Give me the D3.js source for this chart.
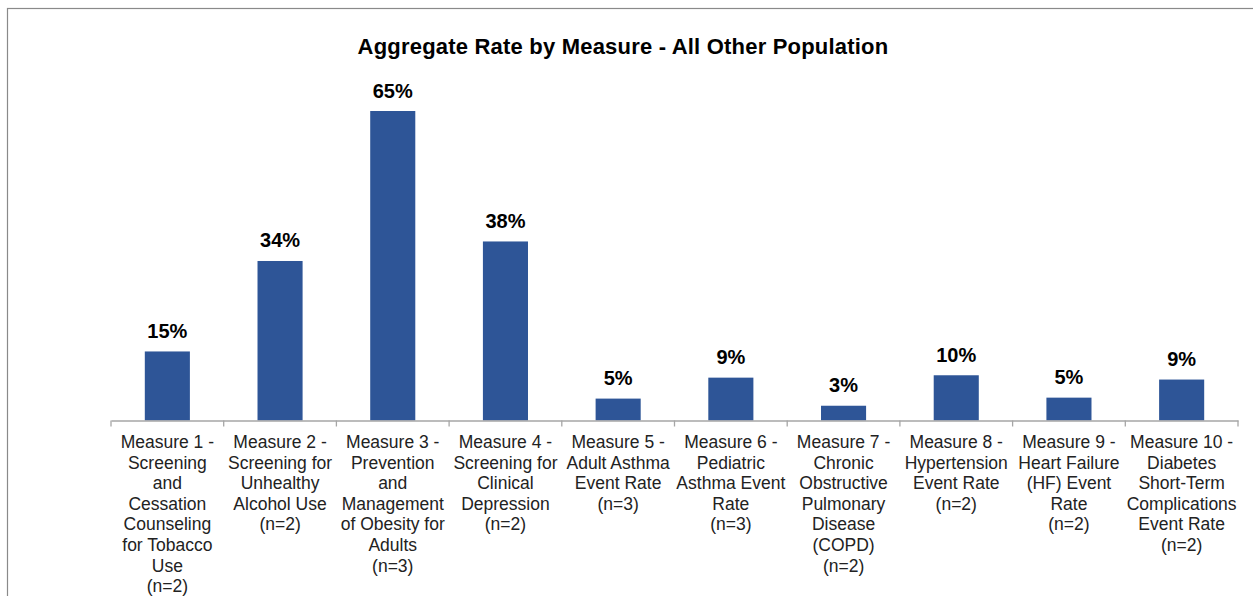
<!DOCTYPE html>
<html>
<head>
<meta charset="utf-8">
<script src="https://cdn.jsdelivr.net/npm/d3@7"></script>
<style>
  html, body { margin: 0; padding: 0; background: #fff; overflow: hidden; }
  svg { display: block; font-family: "Liberation Sans", Arial, sans-serif; }
</style>
</head>
<body>
<div id="chart"></div>
<script>
// values (percent)
var measures = ["M1", "M2", "M3", "M4", "M5", "M6", "M7", "M8", "M9", "M10"];
var rates = [14.5, 33.5, 65, 37.6, 4.6, 9.0, 3.1, 9.5, 4.8, 8.6];
var tickLabels = [
  ["Measure 1 -", "Screening", "and", "Cessation", "Counseling", "for Tobacco", "Use", "(n=2)"],
  ["Measure 2 -", "Screening for", "Unhealthy", "Alcohol Use", "(n=2)"],
  ["Measure 3 -", "Prevention", "and", "Management", "of Obesity for", "Adults", "(n=3)"],
  ["Measure 4 -", "Screening for", "Clinical", "Depression", "(n=2)"],
  ["Measure 5 -", "Adult Asthma", "Event Rate", "(n=3)"],
  ["Measure 6 -", "Pediatric", "Asthma Event", "Rate", "(n=3)"],
  ["Measure 7 -", "Chronic", "Obstructive", "Pulmonary", "Disease", "(COPD)", "(n=2)"],
  ["Measure 8 -", "Hypertension", "Event Rate", "(n=2)"],
  ["Measure 9 -", "Heart Failure", "(HF) Event", "Rate", "(n=2)"],
  ["Measure 10 -", "Diabetes", "Short-Term", "Complications", "Event Rate", "(n=2)"]
];
var title = "Aggregate Rate by Measure - All Other Population";

var W = 1253, H = 596;
var x0 = 111, x1 = 1238, baseY = 420.5;

var svg = d3.select("#chart").append("svg")
    .attr("width", W)
    .attr("height", H);

// chart frame
svg.append("rect")
    .attr("x", 7.5).attr("y", 8.5)
    .attr("width", W + 20).attr("height", H + 20)
    .attr("fill", "none")
    .attr("stroke", "#8a8a8a")
    .attr("stroke-width", 1.2);

svg.append("text")
    .attr("x", 623)
    .attr("y", 53.5)
    .attr("text-anchor", "middle")
    .style("font-size", "22px")
    .style("letter-spacing", "0.2px")
    .style("font-weight", "bold")
    .attr("fill", "#000")
    .text(title);

var xScale = d3.scaleBand().domain(measures).range([x0, x1]).paddingInner(0.6).paddingOuter(0.3);
var xBand = d3.scaleBand().domain(measures).range([x0, x1]);
var yScale = d3.scaleLinear().domain([0, 65]).range([baseY, 111]);

// bars
svg.selectAll(".bar")
    .data(rates)
    .enter().append("rect")
    .attr("class", "bar")
    .attr("x", function(d, i) { return xScale(measures[i]); })
    .attr("width", xScale.bandwidth())
    .attr("y", function(d) { return yScale(d); })
    .attr("height", function(d) { return baseY - yScale(d); })
    .attr("fill", "#2e5597");

// value labels
svg.selectAll(".val")
    .data(rates)
    .enter().append("text")
    .attr("class", "val")
    .attr("x", function(d, i) { return xBand(measures[i]) + xBand.bandwidth() / 2; })
    .attr("y", function(d) { return yScale(d) - 13.5; })
    .attr("text-anchor", "middle")
    .style("font-size", "20px")
    .style("font-weight", "bold")
    .attr("fill", "#000")
    .text(function(d) { return Math.round(d) + "%"; });

// x axis
var xAxis = d3.axisBottom(xBand).tickSize(0).tickFormat("");
var axisG = svg.append("g")
    .attr("transform", "translate(0," + baseY + ")")
    .call(xAxis);
axisG.select(".domain").attr("stroke", "#a6a6a6").attr("stroke-width", 1.3);

var bounds = measures.map(function(m) { return xBand(m); }).concat([x1]);
axisG.selectAll(".sep")
    .data(bounds)
    .enter().append("line")
    .attr("class", "sep")
    .attr("x1", function(d) { return d; })
    .attr("x2", function(d) { return d; })
    .attr("y1", 0).attr("y2", 6)
    .attr("stroke", "#a6a6a6")
    .attr("stroke-width", 1.3);

// category labels
var lab = svg.selectAll(".cat")
    .data(tickLabels)
    .enter().append("text")
    .attr("class", "cat")
    .attr("text-anchor", "middle")
    .style("font-size", "17.5px")
    .attr("fill", "#222");
lab.each(function(lines, i) {
  var cx = xBand(measures[i]) + xBand.bandwidth() / 2;
  d3.select(this).selectAll("tspan")
      .data(lines)
      .enter().append("tspan")
      .attr("x", cx)
      .attr("y", function(d, j) { return 448 + j * 20.6; })
      .text(function(d) { return d; });
});
</script>
</body>
</html>
